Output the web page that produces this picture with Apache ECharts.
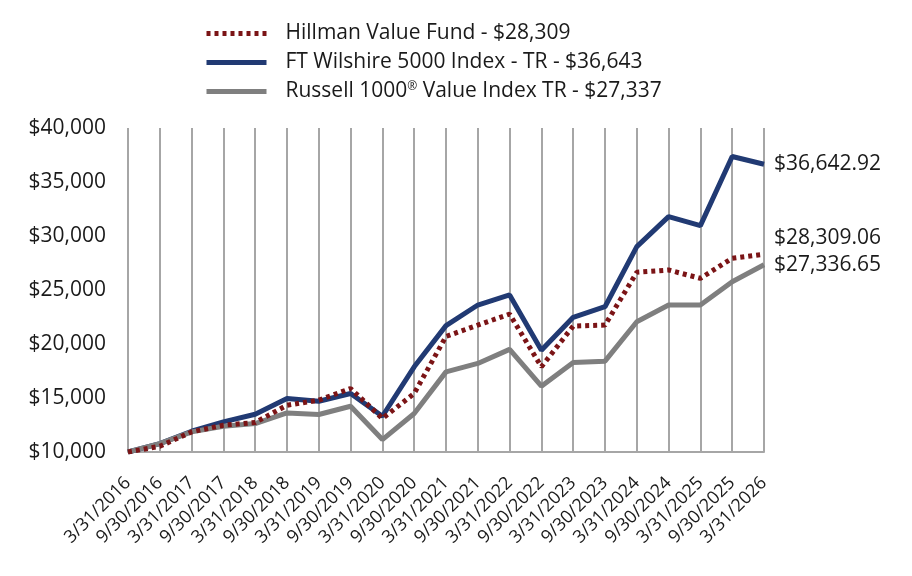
<!DOCTYPE html>
<html>
<head>
<meta charset="utf-8">
<script src="https://cdn.jsdelivr.net/npm/echarts@6/dist/echarts.min.js"></script>
<style>
  html, body { margin: 0; padding: 0; background: #fff; }
  #chart { width: 912px; height: 576px; }
</style>
</head>
<body>
<div id="chart"></div>
<script>
  // 半年度日期
  const dates = ['3/31/2016', '9/30/2016', '3/31/2017', '9/30/2017', '3/31/2018', '9/30/2018',
    '3/31/2019', '9/30/2019', '3/31/2020', '9/30/2020', '3/31/2021', '9/30/2021', '3/31/2022',
    '9/30/2022', '3/31/2023', '9/30/2023', '3/31/2024', '9/30/2024', '3/31/2025', '9/30/2025', '3/31/2026']

  const hillman = [10000, 10530, 11860, 12480, 12730, 14330, 14800, 15880, 13100, 15420, 20700,
    21750, 22770, 17890, 21660, 21750, 26640, 26850, 26080, 27940, 28309.06]
  const wilshire = [10000, 10780, 11920, 12790, 13500, 14950, 14700, 15420, 13310, 17890, 21700,
    23610, 24540, 19430, 22470, 23450, 29020, 31800, 30960, 37360, 36642.92]
  const russell = [10000, 10780, 11860, 12380, 12630, 13620, 13470, 14240, 11150, 13560, 17420,
    18200, 19500, 16090, 18290, 18410, 22060, 23610, 23610, 25770, 27336.65]

  const seriesNames = ['Hillman Value Fund - $28,309', 'FT Wilshire 5000 Index - TR - $36,643',
    'Russell 1000® Value Index TR - $27,337']

  const font = '"Open Sans", "Noto Sans", sans-serif'
  const textColor = '#1a1a1a'

  function money2(v) {
    return '$' + v.toLocaleString('en-US', {minimumFractionDigits: 2, maximumFractionDigits: 2})
  }

  const chart = echarts.init(document.getElementById('chart'))

  function lineSeries(name, data, color, dashed, labelDy) {
    return {
      name: name,
      type: 'line',
      data: data,
      symbol: 'none',
      z: dashed ? 4 : 3,
      lineStyle: {color: color, width: 5, type: dashed ? [4, 4] : 'solid', cap: 'butt'},
      itemStyle: {color: color},
      endLabel: {
        show: true,
        distance: 10,
        offset: [0, labelDy],
        color: textColor,
        fontFamily: font,
        fontSize: 21,
        formatter: p => money2(p.value)
      }
    }
  }

  const option = {
    animation: false,
    backgroundColor: '#fff',
    grid: {left: 128, right: 148, top: 128, bottom: 124},
    legend: {
      orient: 'vertical',
      left: 199,
      top: 17,
      itemWidth: 60,
      itemHeight: 6,
      itemGap: 6,
      data: seriesNames,
      lineStyle: {width: 5},
      itemStyle: {opacity: 0},
      formatter: name => name.replace('®', '{sup|®}'),
      textStyle: {
        color: textColor,
        fontFamily: font,
        fontSize: 21,
        lineHeight: 23,
        padding: [0, 0, 0, 14],
        rich: {
          sup: {fontSize: 12, fontFamily: font, color: textColor, padding: [0, 0, 10, 0]}
        }
      }
    },
    xAxis: {
      type: 'category',
      data: dates,
      boundaryGap: false,
      axisLine: {lineStyle: {color: '#a6a6a6', width: 2}},
      axisTick: {show: false},
      splitLine: {show: true, lineStyle: {color: '#a6a6a6', width: 2}},
      axisLabel: {
        rotate: 45,
        interval: 0,
        margin: 28,
        color: textColor,
        fontFamily: font,
        fontSize: 18
      }
    },
    yAxis: {
      type: 'value',
      min: 10000,
      max: 40000,
      interval: 5000,
      axisLine: {show: false},
      axisTick: {show: false},
      splitLine: {show: false},
      axisLabel: {
        margin: 22,
        color: textColor,
        fontFamily: font,
        fontSize: 21,
        formatter: v => '$' + v.toLocaleString('en-US')
      }
    },
    series: [
      lineSeries(seriesNames[0], hillman, '#7b1416', true, -16),
      lineSeries(seriesNames[1], wilshire, '#213a73', false, 0),
      lineSeries(seriesNames[2], russell, '#7f7f7f', false, 0)
    ]
  }

  chart.setOption(option)
</script>
</body>
</html>
